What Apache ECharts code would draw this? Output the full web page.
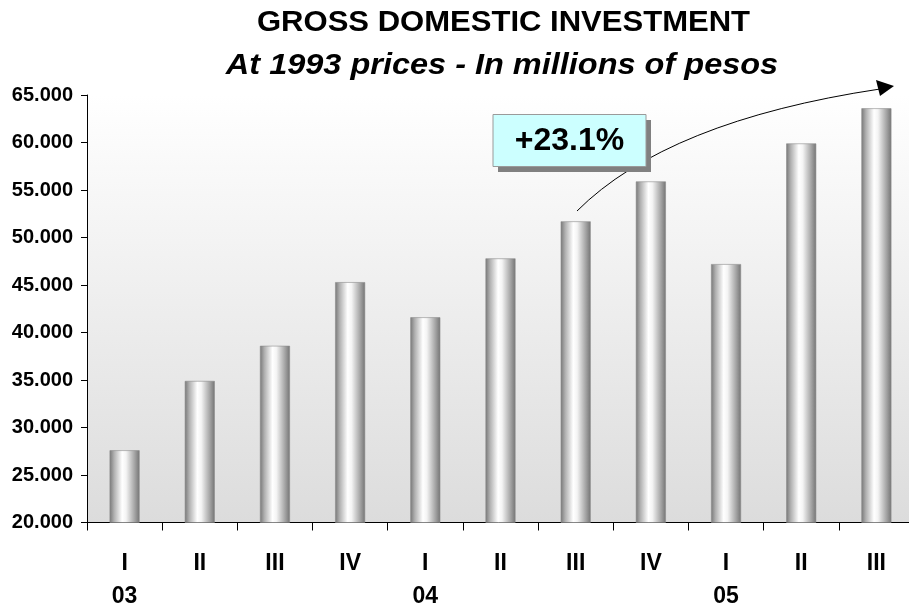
<!DOCTYPE html>
<html>
<head>
<meta charset="utf-8">
<script src="https://cdn.jsdelivr.net/npm/echarts@6/dist/echarts.min.js"></script>
<style>html,body{margin:0;padding:0;background:#fff;}#c{width:909px;height:608px;}</style>
</head>
<body>
<div id="c"></div>
<script>
const quarters = ['I','II','III','IV','I','II','III','IV','I','II','III'];
const years = ['03','','','','04','','','','05','',''];
const investment = [27600, 34900, 38600, 45300, 41600, 47800, 51700, 55900, 47200, 59900, 63600];
const titleText = 'GROSS DOMESTIC INVESTMENT';
const subtitleText = 'At 1993 prices - In millions of pesos';
const annotationText = '+23.1%';

const FONT = '"Liberation Sans", Arial, sans-serif';
const chart = echarts.init(document.getElementById('c'), null, {renderer: 'canvas'});

function fmt(v) {
  const th = Math.floor(v / 1000);
  const rest = String(v % 1000).padStart(3, '0');
  return th + '.' + rest;
}

const option = {
  animation: false,
  backgroundColor: '#ffffff',
  grid: {
    left: 87, top: 95, width: 827, height: 427.5,
    outerBoundsMode: 'none', containLabel: false,
    show: true, borderWidth: 0,
    backgroundColor: {
      type: 'linear', x: 0, y: 0, x2: 0, y2: 1,
      colorStops: [{offset: 0, color: '#ffffff'}, {offset: 1, color: '#dcdcdc'}]
    }
  },
  xAxis: {
    type: 'category',
    data: quarters.map((q, i) => years[i] ? q + '\n' + years[i] : q),
    axisLine: {lineStyle: {color: '#000', width: 1}},
    axisTick: {show: true, length: 8, interval: 0, alignWithLabel: false, lineStyle: {color: '#000'}},
    axisLabel: {
      interval: 0, margin: 25,
      color: '#000', fontFamily: FONT, fontWeight: 'bold', fontSize: 23, lineHeight: 33
    },
    splitLine: {show: false}
  },
  yAxis: {
    type: 'value', min: 20000, max: 65000, interval: 5000,
    axisLine: {show: true, lineStyle: {color: '#000', width: 1}},
    axisTick: {show: true, length: 6, lineStyle: {color: '#000'}},
    axisLabel: {formatter: fmt, margin: 14, color: '#000', fontFamily: FONT, fontWeight: 'bold', fontSize: 20},
    splitLine: {show: false}
  },
  series: [{
    type: 'bar',
    data: investment,
    barWidth: 30,
    itemStyle: {
      color: {
        type: 'linear', x: 0, y: 0, x2: 1, y2: 0,
        colorStops: [
          {offset: 0, color: '#777777'},
          {offset: 0.15, color: '#b0b0b0'},
          {offset: 0.42, color: '#ffffff'},
          {offset: 0.55, color: '#f4f4f4'},
          {offset: 0.85, color: '#a0a0a0'},
          {offset: 1, color: '#747474'}
        ]
      },
      borderColor: '#8c8c8c', borderWidth: 0.6
    }
  }],
  graphic: [
    {
      type: 'text', z: 10, x: 503.5, y: 23, scaleX: 1.07, silent: true,
      style: {text: titleText, fill: '#000', font: 'bold 29px ' + FONT, align: 'center', verticalAlign: 'middle'}
    },
    {
      type: 'text', z: 10, x: 502, y: 65.5, scaleX: 1.12, silent: true,
      style: {text: subtitleText, fill: '#000', font: 'italic bold 29px ' + FONT, align: 'center', verticalAlign: 'middle'}
    },
    {
      type: 'bezierCurve', z: 5, silent: true,
      shape: {x1: 577, y1: 211, cpx1: 667, cpy1: 121, x2: 880, y2: 89},
      style: {stroke: '#000', lineWidth: 1, fill: null}
    },
    {
      type: 'polygon', z: 5, silent: true,
      shape: {points: [[876, 80], [880, 96], [894, 86]]},
      style: {fill: '#000'}
    },
    {
      type: 'rect', z: 6, silent: true,
      shape: {x: 498, y: 120, width: 153, height: 52},
      style: {fill: '#808080'}
    },
    {
      type: 'rect', z: 7, silent: true,
      shape: {x: 493, y: 114.5, width: 153, height: 52},
      style: {fill: '#ccffff', stroke: '#9a9a9a', lineWidth: 1}
    },
    {
      type: 'text', z: 8, silent: true,
      x: 569.5, y: 141,
      style: {text: annotationText, fill: '#000', font: 'bold 32px ' + FONT, align: 'center', verticalAlign: 'middle'}
    }
  ]
};
chart.setOption(option);
</script>
</body>
</html>
